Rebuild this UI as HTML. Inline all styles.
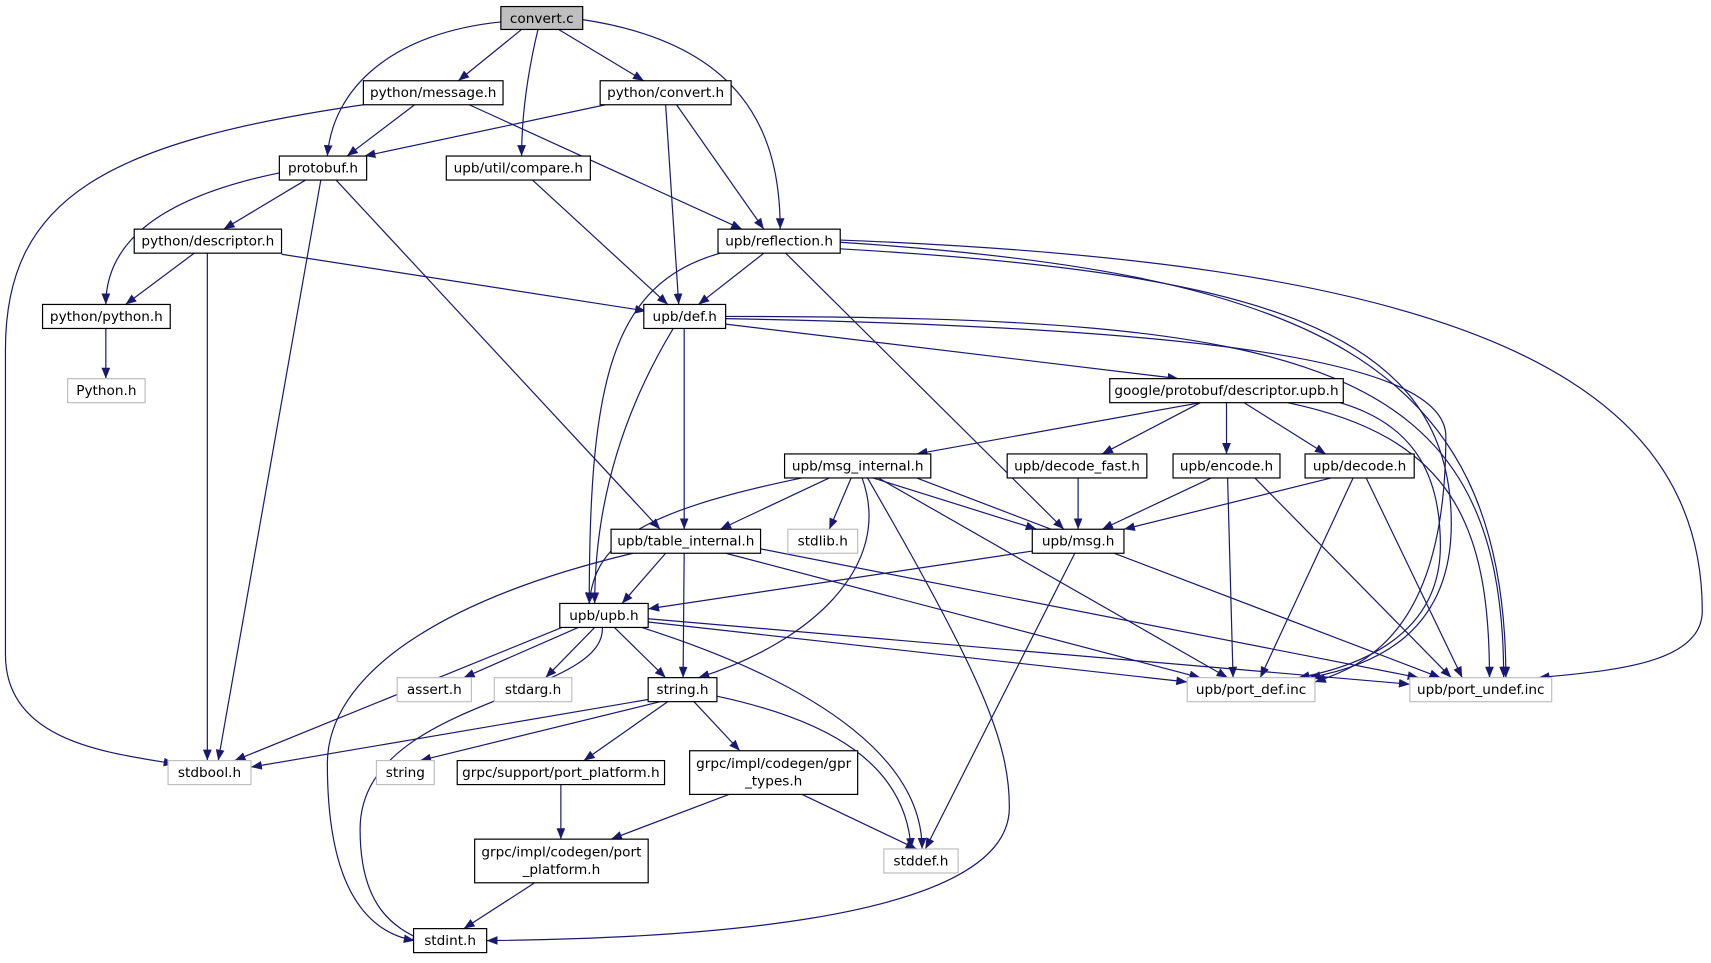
<!DOCTYPE html>
<html><head><meta charset="utf-8"><style>
html,body{margin:0;padding:0;background:#fff;}
svg{display:block;}
text{font-family:"DejaVu Sans","Liberation Sans",sans-serif;font-size:12.5px;fill:#000;text-anchor:middle;}
.e{fill:none;stroke:#191970;stroke-width:1.1;marker-end:url(#a);}
.n{fill:#fff;stroke:#000;stroke-width:1.1;}
.g{fill:#fff;stroke:#bfbfbf;stroke-width:1.1;}
</style></head><body>
<svg width="1711" height="963" viewBox="0 0 1568 882.5" preserveAspectRatio="none">
<defs><marker id="a" markerWidth="10" markerHeight="8" refX="10" refY="4" orient="auto" markerUnits="userSpaceOnUse"><path d="M0,0 L10,4 L0,8 z" fill="#191970"/></marker></defs>
<g>
<path class="e" d="M478,27 L420,74"/>
<path class="e" d="M512,27 L590,74"/>
<path class="e" d="M460,20 C360,30 305,80 300,143"/>
<path class="e" d="M493,27 Q478,90 478,143"/>
<path class="e" d="M534,18 C680,40 715,120 715,210"/>
<path class="e" d="M380,96 L318,143"/>
<path class="e" d="M430,96 L680,210"/>
<path class="e" d="M333,96 C100,130 5,180 5,320 L5,600 C5,680 100,690 160,700"/>
<path class="e" d="M555,96 L334,143"/>
<path class="e" d="M610,96 L622,279"/>
<path class="e" d="M620,96 L700,210"/>
<path class="e" d="M258,158 C150,180 97,220 97,279"/>
<path class="e" d="M280,165 L205,210"/>
<path class="e" d="M308,165 L605,485"/>
<path class="e" d="M294,165 L200,697"/>
<path class="e" d="M488,165 L612,279"/>
<path class="e" d="M178,232 L115,279"/>
<path class="e" d="M190,232 L190,697"/>
<path class="e" d="M258,233 L592,285"/>
<path class="e" d="M700,232 L640,279"/>
<path class="e" d="M660,232 C560,260 540,350 540,553"/>
<path class="e" d="M720,232 L975,485"/>
<path class="e" d="M770,228 C1150,250 1330,300 1330,480 C1330,580 1260,610 1200,621"/>
<path class="e" d="M770,222 C1200,250 1380,330 1380,621"/>
<path class="e" d="M770,220 C1300,240 1560,330 1560,560 C1560,610 1470,615 1410,621"/>
<path class="e" d="M97,301 L97,347"/>
<path class="e" d="M665,297 L1080,347"/>
<path class="e" d="M627,301 L627,485"/>
<path class="e" d="M617,301 Q545,420 545,553"/>
<path class="e" d="M665,292 C1100,300 1325,330 1325,400 C1325,580 1250,610 1205,625"/>
<path class="e" d="M665,290 C1200,290 1378,330 1378,621"/>
<path class="e" d="M1100,369 L840,416"/>
<path class="e" d="M1100,369 L1010,416"/>
<path class="e" d="M1124,369 L1124,416"/>
<path class="e" d="M1140,369 L1215,416"/>
<path class="e" d="M1228,369 C1300,390 1320,440 1320,500 C1320,580 1250,610 1190,621"/>
<path class="e" d="M1180,369 C1330,400 1365,480 1365,621"/>
<path class="e" d="M760,438 L660,485"/>
<path class="e" d="M780,438 L760,485"/>
<path class="e" d="M800,438 L950,485"/>
<path class="e" d="M735,438 C580,470 545,500 540,553"/>
<path class="e" d="M805,438 L1125,621"/>
<path class="e" d="M840,438 L1320,621"/>
<path class="e" d="M790,438 C820,520 740,590 640,621"/>
<path class="e" d="M795,438 C900,620 925,680 925,740 C925,850 600,860 446,862"/>
<path class="e" d="M988,438 L988,485"/>
<path class="e" d="M1110,438 L1010,485"/>
<path class="e" d="M1125,438 L1130,621"/>
<path class="e" d="M1150,438 L1330,621"/>
<path class="e" d="M1220,438 L1030,485"/>
<path class="e" d="M1240,438 L1155,621"/>
<path class="e" d="M1252,438 L1340,621"/>
<path class="e" d="M610,507 L570,553"/>
<path class="e" d="M627,507 L626,621"/>
<path class="e" d="M580,507 C400,550 300,620 300,700 C300,820 340,855 380,862"/>
<path class="e" d="M665,507 L1100,621"/>
<path class="e" d="M697,503 L1300,621"/>
<path class="e" d="M946,505 L594,558"/>
<path class="e" d="M985,507 L848,778"/>
<path class="e" d="M530,575 L425,621"/>
<path class="e" d="M545,575 L500,621"/>
<path class="e" d="M563,575 L610,621"/>
<path class="e" d="M515,575 L215,697"/>
<path class="e" d="M594,570 L1088,625"/>
<path class="e" d="M594,567 L1292,627"/>
<path class="e" d="M588,575 C760,630 845,700 845,778"/>
<path class="e" d="M552,575 C555,640 330,640 330,760 C330,830 360,850 388,862"/>
<path class="e" d="M600,640 L230,703"/>
<path class="e" d="M605,643 L385,697"/>
<path class="e" d="M612,643 L535,697"/>
<path class="e" d="M636,643 L678,688"/>
<path class="e" d="M657,638 C760,660 830,700 835,778"/>
<path class="e" d="M514,719 L514,769"/>
<path class="e" d="M668,728 L560,769"/>
<path class="e" d="M735,728 L840,778"/>
<path class="e" d="M490,809 L425,851"/>
</g>
<g>
<rect x="459" y="6" width="75" height="21" fill="#bfbfbf" stroke="#000" stroke-width="1.1"/><text x="496.5" y="21">convert.c</text>
<rect class="n" x="333" y="74" width="128" height="22"/><text x="397" y="89">python/message.h</text>
<rect class="n" x="550" y="74" width="120" height="22"/><text x="610" y="89">python/convert.h</text>
<rect class="n" x="256" y="143" width="80" height="22"/><text x="296" y="158">protobuf.h</text>
<rect class="n" x="409" y="143" width="132" height="22"/><text x="475" y="158">upb/util/compare.h</text>
<rect class="n" x="123" y="210" width="135" height="22"/><text x="190.5" y="225">python/descriptor.h</text>
<rect class="n" x="658" y="210" width="112" height="22"/><text x="714" y="225">upb/reflection.h</text>
<rect class="n" x="39" y="279" width="117" height="22"/><text x="97.5" y="294">python/python.h</text>
<rect class="n" x="590" y="279" width="75" height="22"/><text x="627.5" y="294">upb/def.h</text>
<rect class="g" x="62" y="347" width="71" height="22"/><text x="97.5" y="362">Python.h</text>
<rect class="n" x="1017" y="347" width="214" height="22"/><text x="1124" y="362">google/protobuf/descriptor.upb.h</text>
<rect class="n" x="719" y="416" width="134" height="22"/><text x="786" y="431">upb/msg_internal.h</text>
<rect class="n" x="923" y="416" width="128" height="22"/><text x="987" y="431">upb/decode_fast.h</text>
<rect class="n" x="1075" y="416" width="98" height="22"/><text x="1124" y="431">upb/encode.h</text>
<rect class="n" x="1196" y="416" width="100" height="22"/><text x="1246" y="431">upb/decode.h</text>
<rect class="n" x="560" y="485" width="137" height="22"/><text x="628.5" y="500">upb/table_internal.h</text>
<rect class="g" x="722" y="485" width="64" height="22"/><text x="754" y="500">stdlib.h</text>
<rect class="n" x="946" y="485" width="84" height="22"/><text x="988" y="500">upb/msg.h</text>
<rect class="n" x="513" y="553" width="81" height="22"/><text x="553.5" y="568">upb/upb.h</text>
<rect class="g" x="364" y="621" width="68" height="22"/><text x="398" y="636">assert.h</text>
<rect class="g" x="453" y="621" width="71" height="22"/><text x="488.5" y="636">stdarg.h</text>
<rect class="n" x="594" y="621" width="63" height="22"/><text x="625.5" y="636">string.h</text>
<rect class="g" x="1088" y="621" width="117" height="22"/><text x="1146.5" y="636">upb/port_def.inc</text>
<rect class="g" x="1292" y="621" width="130" height="22"/><text x="1357" y="636">upb/port_undef.inc</text>
<rect class="g" x="154" y="697" width="76" height="22"/><text x="192" y="712">stdbool.h</text>
<rect class="g" x="345" y="697" width="53" height="22"/><text x="371.5" y="712">string</text>
<rect class="n" x="419" y="697" width="190" height="22"/><text x="514" y="712">grpc/support/port_platform.h</text>
<rect class="n" x="632" y="688" width="154" height="40"/><text x="709" y="704">grpc/impl/codegen/gpr</text><text x="709" y="720">_types.h</text>
<rect class="g" x="810" y="778" width="68" height="22"/><text x="844" y="793">stddef.h</text>
<rect class="n" x="435" y="769" width="159" height="40"/><text x="514.5" y="785">grpc/impl/codegen/port</text><text x="514.5" y="801">_platform.h</text>
<rect class="n" x="379" y="851" width="67" height="22"/><text x="412.5" y="866">stdint.h</text>
</g>
</svg>
</body></html>
